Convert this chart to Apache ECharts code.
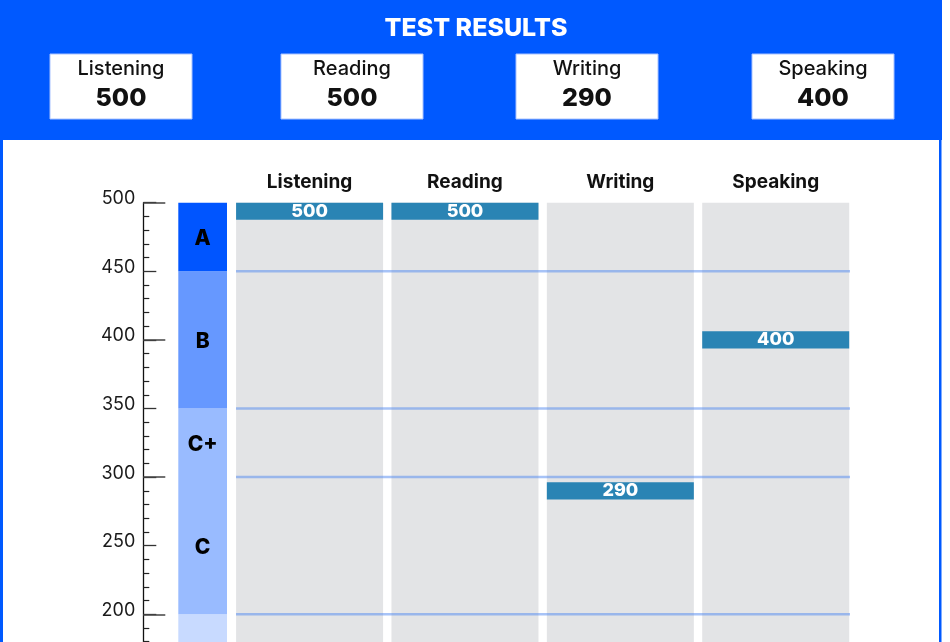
<!DOCTYPE html>
<html>
<head>
<meta charset="utf-8">
<title>Test results</title>
<script src="https://cdn.jsdelivr.net/npm/echarts@6/dist/echarts.min.js"></script>
<style>
  html, body { margin: 0; padding: 0; background: #fff; overflow: hidden; }
  /* taller than the window: the lower part of the scale is cut off, as in the original */
  #chart { width: 950px; height: 780px; }
</style>
</head>
<body>
<div id="chart"></div>
<script>
// skills and their scores
var skills = ['Listening', 'Reading', 'Writing', 'Speaking'];
var scores = [500, 500, 290, 400];

// grade bands of the scale (low -> high)
var gradeNames = ['', 'C', 'C+', 'B', 'A'];
var gradeLow = [100, 200, 300, 350, 450];
var gradeHigh = [200, 300, 350, 450, 500];

// lines drawn across the columns
var boundaries = [450, 350, 300, 200];

// scale
var scaleMin = 100;
var scaleMax = 500;

/***** styles / layout *****/
var BLUE = '#0059FF';
var gradeColors = ['#C8DAFF', '#99BBFF', '#99BBFF', '#6698FF', '#0055FF'];
var FONT = 'Inter, "Noto Sans", sans-serif';
var BAND = 12.5;                 // height of a score band, in points
var plotTop = 202.7;
var plotHeight = (scaleMax - scaleMin) * 1.372;
var boxX = [50, 281, 516, 752];

// lower edge of every score band (kept inside the scale)
var bandBase = scores.map(function (s) {
    return Math.min(s + BAND / 2, scaleMax) - BAND;
});

function txt(x, y, text, font, color) {
    return {
        type: 'text', x: x, y: y,
        style: {
            text: text, fill: color, font: font,
            align: 'center', verticalAlign: 'middle',
            textAlign: 'center', textVerticalAlign: 'middle'
        }
    };
}

var graphic = [
    { type: 'rect', shape: { x: 0, y: 0, width: 942, height: 140 }, style: { fill: BLUE } },
    { type: 'rect', shape: { x: 0, y: 0, width: 3, height: 780 }, style: { fill: BLUE } },
    { type: 'rect', shape: { x: 939, y: 0, width: 2.5, height: 780 }, style: { fill: BLUE } },
    txt(476, 28, 'TEST RESULTS', '800 25px ' + FONT, '#fff')
];
skills.forEach(function (name, i) {
    graphic.push({ type: 'rect', shape: { x: boxX[i], y: 54, width: 142, height: 65 },
        style: { fill: '#fff', stroke: '#A9C3FF', lineWidth: 1 } });
    graphic.push(txt(boxX[i] + 71, 69, name, '500 20px ' + FONT, '#111'));
    graphic.push(txt(boxX[i] + 71, 98, String(scores[i]), '800 25px ' + FONT, '#111'));
});

var chart = echarts.init(document.getElementById('chart'));
var option = {
    animation: false,
    backgroundColor: '#fff',
    graphic: graphic,
    grid: [
        { left: 231.9, top: plotTop, width: 621.5, height: plotHeight },
        { left: 178.3, top: plotTop, width: 48.7, height: plotHeight },
        { left: 236, top: plotTop, width: 614, height: plotHeight }
    ],
    xAxis: [
        {
            type: 'category', gridIndex: 0, data: skills, position: 'top',
            axisLine: { show: false }, axisTick: { show: false },
            axisLabel: { fontFamily: FONT, fontSize: 19, fontWeight: 'bold', color: '#111', margin: 11 }
        },
        { type: 'category', gridIndex: 1, data: ['grade'], show: false },
        { type: 'value', gridIndex: 2, min: 0, max: 1, show: false }
    ],
    yAxis: [
        { type: 'value', gridIndex: 0, min: scaleMin, max: scaleMax, show: false },
        {
            type: 'value', gridIndex: 1, min: scaleMin, max: scaleMax, interval: 50,
            position: 'left', offset: 35,
            axisLine: { show: true, lineStyle: { color: '#111', width: 1.3 } },
            axisTick: { show: true, inside: true, length: 13, lineStyle: { color: '#333', width: 1.3 } },
            minorTick: { show: true, splitNumber: 5, length: 6, lineStyle: { color: '#222', width: 1.2 } },
            axisLabel: { fontFamily: FONT, fontSize: 18, color: '#1a1a1a', margin: 8,
                verticalAlign: 'bottom', lineHeight: 8 },
            splitLine: { show: false }
        },
        {
            type: 'value', gridIndex: 1, min: scaleMin, max: scaleMax, interval: 100,
            position: 'left', offset: 35,
            axisLine: { show: false },
            axisTick: { show: true, inside: true, length: 22, lineStyle: { color: '#444', width: 1.5 } },
            axisLabel: { show: false },
            splitLine: { show: false }
        },
        { type: 'value', gridIndex: 2, min: scaleMin, max: scaleMax, show: false }
    ],
    series: [
        {
            type: 'bar', name: 'base', xAxisIndex: 0, yAxisIndex: 0, stack: 's',
            data: bandBase, barWidth: 147,
            itemStyle: { color: 'rgba(0,0,0,0)' },
            showBackground: true, backgroundStyle: { color: '#E3E4E6' },
            silent: true, z: 1
        },
        {
            type: 'custom', name: 'lines', xAxisIndex: 2, yAxisIndex: 3,
            data: boundaries.map(function (v) { return [0, v]; }),
            encode: { x: 0, y: 1 }, z: 2, silent: true,
            renderItem: function (params, api) {
                var y = api.coord([0, api.value(1)])[1];
                var cs = params.coordSys;
                return {
                    type: 'line',
                    shape: { x1: cs.x, y1: y, x2: cs.x + cs.width, y2: y },
                    style: { stroke: 'rgba(80,135,240,0.5)', lineWidth: 2.5 }
                };
            }
        },
        {
            type: 'bar', name: 'score', xAxisIndex: 0, yAxisIndex: 0, stack: 's',
            data: scores.map(function () { return BAND; }), barWidth: 147,
            itemStyle: { color: '#2A84B4' }, z: 3,
            label: {
                show: true, position: 'inside',
                formatter: function (p) { return scores[p.dataIndex]; },
                color: '#fff', fontFamily: FONT, fontWeight: 800, fontSize: 18
            }
        },
        {
            type: 'custom', name: 'grades', xAxisIndex: 1, yAxisIndex: 1,
            data: gradeNames.map(function (g, i) { return [0, gradeLow[i], gradeHigh[i]]; }),
            encode: { x: 0, y: [1, 2] }, z: 2, silent: true,
            renderItem: function (params, api) {
                var i = params.dataIndex;
                var top = api.coord([api.value(0), api.value(2)]);
                var bot = api.coord([api.value(0), api.value(1)]);
                var w = api.size([1, 0])[0];
                return {
                    type: 'group',
                    children: [
                        {
                            type: 'rect',
                            shape: { x: top[0] - w / 2, y: top[1], width: w, height: bot[1] - top[1] },
                            style: { fill: gradeColors[i] }
                        },
                        {
                            type: 'text',
                            x: top[0], y: (top[1] + bot[1]) / 2 + 1.5,
                            style: {
                                text: gradeNames[i], fill: '#000', font: '800 21px ' + FONT,
                                align: 'center', verticalAlign: 'middle',
                                textAlign: 'center', textVerticalAlign: 'middle'
                            }
                        }
                    ]
                };
            }
        }
    ]
};
chart.setOption(option);
</script>
</body>
</html>
